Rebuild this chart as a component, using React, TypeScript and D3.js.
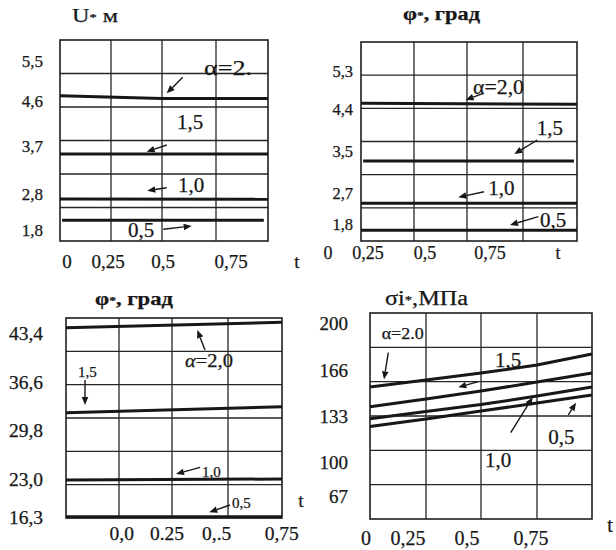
import React from 'react';
import * as d3 from 'd3';

// ---------- shared ----------
const tTwo = [0, 1];
const tFive = [0, 0.25, 0.5, 0.75, 1];
const xTickValues = [0, 0.25, 0.5, 0.75];

// ---------- Panel 1: U*, м ----------
const uTicks = [1.8, 2.8, 3.7, 4.6, 5.5];
const uTickLabels = ['1,8', '2,8', '3,7', '4,6', '5,5'];
const uXLabels = ['0', '0,25', '0,5', '0,75'];
const uA20T = [0, 0.5, 1];
const uA20 = [4.73, 4.67, 4.67];
const uA15 = [3.56, 3.56];
const uA10 = [2.67, 2.66];
const uA05T = [0.01, 0.98];
const uA05 = [2.07, 2.07];

// ---------- Panel 2: φ*, град (small) ----------
const p2Ticks = [1.8, 2.7, 3.5, 4.4, 5.3];
const p2TickLabels = ['1,8', '2,7', '3,5', '4,4', '5,3'];
const p2XLabels = ['0', '0,25', '0,5', '0,75'];
const p2A20 = [4.535, 4.51];
const p2A15T = [0.01, 0.986];
const p2A15 = [3.32, 3.32];
const p2A10 = [2.41, 2.41];
const p2A05 = [1.62, 1.62];

// ---------- Panel 3: φ*, град (large) ----------
const p3Ticks = [16.3, 23.0, 29.8, 36.6, 43.4];
const p3TickLabels = ['16,3', '23,0', '29,8', '36,6', '43,4'];
const p3XLabels = ['0,0', '0.25', '0,.5', '0,75'];
const p3A20 = [44.14, 44.89];
const p3A15 = [32.25, 33.1];
const p3A10 = [22.82, 23.0];
const p3A05 = [16.35, 16.35];

// ---------- Panel 4: σi*, МПа ----------
const p4Ticks = [67, 100, 133, 166, 200];
const p4TickLabels = ['67', '100', '133', '166', '200'];
const p4XLabels = ['0', '0,25', '0,5', '0,75'];
const p4A20 = [153.8, 158.8, 163.8, 169.6, 177.6];
const p4A15 = [139.7, 145.2, 150.9, 157.4, 163.8];
const p4A10 = [131.1, 136.2, 141.2, 147.3, 153.8];
const p4A05 = [125.5, 130.8, 136.6, 142.3, 148.1];

const FONT = 'Liberation Serif, Times New Roman, serif';
const INK = '#171717';

type Ann = { parts: { t: string; italic?: boolean }[]; x: number; y: number; size: number; w?: number; arrow: number[] };
type Layout = {
  xStops: number[]; y0: number; y1: number; yStops: number[];
  yLabelRight: number; yLabelSize: number;
  xLabelStops: number[]; xLabelY: number; xLabelSize: number;
  tPos: number[]; tSize: number;
  title: { x: number; y: number; size: number; w: number; bold?: boolean; main: string; rest: string };
};

const panels: {
  layout: Layout; ticks: number[]; tickLabels: string[]; xLabels: string[];
  series: { t: number[]; v: number[] }[]; anns: Ann[];
}[] = [
  {
    layout: {
      xStops: [60, 111, 162, 216, 268], y0: 40, y1: 241, yStops: [230, 194.3, 146.7, 101.7, 61],
      yLabelRight: 43, yLabelSize: 17, xLabelStops: [67, 108, 163, 231], xLabelY: 261, xLabelSize: 19,
      tPos: [297, 261], tSize: 19,
      title: { x: 72, y: 22, size: 19, w: 46, main: 'U', rest: ' м' },
    },
    ticks: uTicks, tickLabels: uTickLabels, xLabels: uXLabels,
    series: [
      { t: uA20T, v: uA20 }, { t: tTwo, v: uA15 }, { t: tTwo, v: uA10 }, { t: uA05T, v: uA05 },
    ],
    anns: [
      { parts: [{ t: 'α=2.' }], x: 204, y: 68, size: 21, w: 48, arrow: [182.7, 77.3, 166.7, 93.3] },
      { parts: [{ t: '1,5' }], x: 177, y: 121.7, size: 21, arrow: [166.7, 145, 146.7, 151.7] },
      { parts: [{ t: '1,0' }], x: 178, y: 185, size: 21, arrow: [166.7, 187.7, 147.3, 190.7] },
      { parts: [{ t: '0,5' }], x: 128, y: 230, size: 21, arrow: [163.3, 229.3, 191.7, 226] },
    ],
  },
  {
    layout: {
      xStops: [361, 414, 467, 523, 577], y0: 42, y1: 241, yStops: [224, 193.3, 151.7, 109, 71],
      yLabelRight: 353, yLabelSize: 16.5, xLabelStops: [328, 368, 425, 490], xLabelY: 253, xLabelSize: 18,
      tPos: [558, 253], tSize: 18,
      title: { x: 403, y: 20, size: 18, w: 77, bold: true, main: 'φ', rest: ', град' },
    },
    ticks: p2Ticks, tickLabels: p2TickLabels, xLabels: p2XLabels,
    series: [
      { t: tTwo, v: p2A20 }, { t: p2A15T, v: p2A15 }, { t: tTwo, v: p2A10 }, { t: tTwo, v: p2A05 },
    ],
    anns: [
      { parts: [{ t: 'α=2,0' }], x: 473, y: 86.7, size: 21, w: 51, arrow: [483.3, 93.3, 465.7, 100] },
      { parts: [{ t: '1,5' }], x: 536.7, y: 128.3, size: 21, arrow: [537.3, 140, 514.3, 154] },
      { parts: [{ t: '1,0' }], x: 488.3, y: 188.3, size: 21, arrow: [484, 191.7, 458.3, 197.3] },
      { parts: [{ t: '0,5' }], x: 540, y: 220, size: 21, arrow: [538.3, 216.7, 510, 225] },
    ],
  },
  {
    layout: {
      xStops: [66, 119, 172, 228, 282], y0: 318, y1: 518, yStops: [517, 479, 430, 382, 333],
      yLabelRight: 43, yLabelSize: 19.5, xLabelStops: [121.7, 167, 216.7, 281.7], xLabelY: 533, xLabelSize: 19.5,
      tPos: [301, 500], tSize: 19.5,
      title: { x: 95, y: 305, size: 18, w: 78, bold: true, main: 'φ', rest: ', град' },
    },
    ticks: p3Ticks, tickLabels: p3TickLabels, xLabels: p3XLabels,
    series: [
      { t: tTwo, v: p3A20 }, { t: tTwo, v: p3A15 }, { t: tTwo, v: p3A10 }, { t: tTwo, v: p3A05 },
    ],
    anns: [
      { parts: [{ t: 'α', italic: true }, { t: '=2,0' }], x: 185, y: 360, size: 19, w: 48, arrow: [205, 350, 197.3, 330] },
      { parts: [{ t: '1,5' }], x: 78, y: 371.7, size: 15, arrow: [85, 380, 85, 405] },
      { parts: [{ t: '1,0' }], x: 202, y: 471.7, size: 15, arrow: [200, 467.3, 176, 474] },
      { parts: [{ t: '0,5' }], x: 232, y: 503.3, size: 15, arrow: [230, 505, 209.3, 512.3] },
    ],
  },
  {
    layout: {
      xStops: [370, 426, 481, 537, 592], y0: 313, y1: 519, yStops: [496, 462, 416, 370, 323],
      yLabelRight: 348, yLabelSize: 19, xLabelStops: [366, 408, 467, 531], xLabelY: 538, xLabelSize: 20,
      tPos: [610, 525], tSize: 20,
      title: { x: 385, y: 305, size: 20, w: 83, main: 'σi', rest: ',МПа' },
    },
    ticks: p4Ticks, tickLabels: p4TickLabels, xLabels: p4XLabels,
    series: [
      { t: tFive, v: p4A20 }, { t: tFive, v: p4A15 }, { t: tFive, v: p4A10 }, { t: tFive, v: p4A05 },
    ],
    anns: [
      { parts: [{ t: 'α=2.0' }], x: 381.7, y: 333.3, size: 17, w: 42, arrow: [388.3, 352.7, 384, 379.3] },
      { parts: [{ t: '1,5' }], x: 495, y: 360, size: 21, arrow: [478.3, 381.7, 458.3, 387.3] },
      { parts: [{ t: '1,0' }], x: 485, y: 460, size: 21, arrow: [510.7, 432.7, 532.7, 397.3] },
      { parts: [{ t: '0,5' }], x: 548.3, y: 436.7, size: 21, arrow: [568.3, 415, 576, 402.7] },
    ],
  },
];

function Arrow({ a }: { a: number[] }) {
  const [x1, y1, x2, y2] = a;
  const ang = Math.atan2(y2 - y1, x2 - x1);
  const L = 8, W = 3.3;
  const bx = x2 - L * Math.cos(ang), by = y2 - L * Math.sin(ang);
  const s = Math.sin(ang), c = Math.cos(ang);
  const d = `M${x2},${y2}L${bx - W * s},${by + W * c}L${bx + W * s},${by - W * c}Z`;
  return (
    <g>
      <line x1={x1} y1={y1} x2={bx} y2={by} stroke={INK} strokeWidth={1.4} />
      <path d={d} fill={INK} />
    </g>
  );
}

const textStyle = { fontFamily: FONT, fill: INK, stroke: INK, strokeWidth: 0.25 } as const;

function Panel({ p }: { p: (typeof panels)[number] }) {
  const L = p.layout;
  const x = d3.scaleLinear().domain(tFive).range(L.xStops);
  const y = d3.scaleLinear().domain(p.ticks).range(L.yStops);
  const xLab = d3.scaleLinear().domain(xTickValues).range(L.xLabelStops);
  const rowY = d3.scaleLinear().domain([0, 6]).range([L.y0, L.y1]);
  const x0 = L.xStops[0], x1 = L.xStops[L.xStops.length - 1];
  const line = d3.line<[number, number]>().x((d) => x(d[0])).y((d) => y(d[1]));
  return (
    <g>
      {d3.range(1, 6).map((i) => (
        <line key={'h' + i} x1={x0} x2={x1} y1={rowY(i)} y2={rowY(i)} stroke="#262626" strokeWidth={1.3} />
      ))}
      {[0.25, 0.5, 0.75].map((t) => (
        <line key={'v' + t} x1={x(t)} x2={x(t)} y1={L.y0} y2={L.y1} stroke="#262626" strokeWidth={1.3} />
      ))}
      <rect x={x0} y={L.y0} width={x1 - x0} height={L.y1 - L.y0} fill="none" stroke="#1e1e1e" strokeWidth={1.6} />
      {p.series.map((s, i) => (
        <path key={'s' + i} d={line(s.t.map((t, j) => [t, s.v[j]] as [number, number])) || ''}
          fill="none" stroke={INK} strokeWidth={3} />
      ))}
      {p.ticks.map((v, i) => (
        <text key={'yl' + i} x={L.yLabelRight} y={y(v)} textAnchor="end" dominantBaseline="central"
          fontSize={L.yLabelSize} style={textStyle}>{p.tickLabels[i]}</text>
      ))}
      {xTickValues.map((v, i) => (
        <text key={'xl' + i} x={xLab(v)} y={L.xLabelY} textAnchor="middle" dominantBaseline="central"
          fontSize={L.xLabelSize} style={textStyle}>{p.xLabels[i]}</text>
      ))}
      <text x={L.tPos[0]} y={L.tPos[1]} textAnchor="middle" dominantBaseline="central"
        fontSize={L.tSize} style={textStyle}>t</text>
      <text x={L.title.x} y={L.title.y} fontSize={L.title.size} style={textStyle}
        textLength={L.title.w} lengthAdjust="spacingAndGlyphs"
        fontWeight={L.title.bold ? 'bold' : 'normal'}>
        {L.title.main}
        <tspan fontSize={L.title.size * 0.6} dy={-1}>*</tspan>
        <tspan dy={1}>{L.title.rest}</tspan>
      </text>
      {p.anns.map((a, i) => (
        <g key={'a' + i}>
          <text x={a.x} y={a.y} dominantBaseline="central" fontSize={a.size} style={textStyle}
            {...(a.w ? { textLength: a.w, lengthAdjust: 'spacingAndGlyphs' } : {})}>
            {a.parts.map((pt, k) => (
              <tspan key={k} fontStyle={pt.italic ? 'italic' : 'normal'}>{pt.t}</tspan>
            ))}
          </text>
          <Arrow a={a.arrow} />
        </g>
      ))}
    </g>
  );
}

export default function App() {
  return (
    <svg width={616} height={550} viewBox="0 0 616 550"
      style={{ position: 'absolute', left: 0, top: 0, background: '#fff' }}>
      <rect x={0} y={0} width={616} height={550} fill="#fff" />
      {panels.map((p, i) => (
        <Panel key={i} p={p} />
      ))}
    </svg>
  );
}
